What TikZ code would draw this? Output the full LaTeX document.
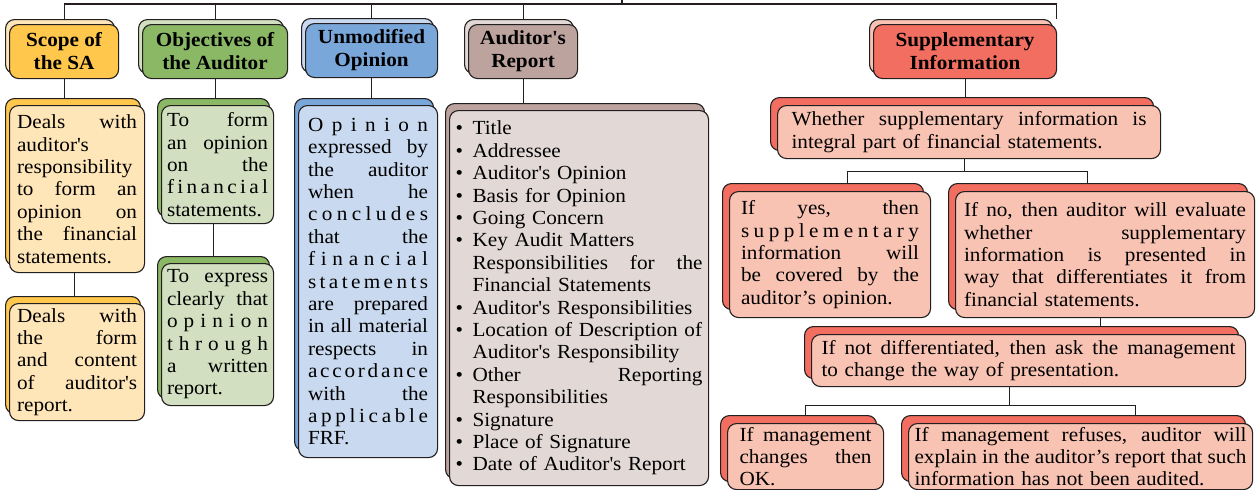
\documentclass[tikz,border=0pt]{standalone}
\usepackage{fontspec}
\setmainfont{Liberation Serif}[FakeStretch=1.06]
\usepackage{tikz}
\usetikzlibrary{shadows,backgrounds}

\definecolor{ln}{HTML}{231F20}
\definecolor{scopeD}{HTML}{FFC74B}
\definecolor{scopeL}{HTML}{FFE6B8}
\definecolor{objD}{HTML}{8AB865}
\definecolor{objL}{HTML}{D2DFC0}
\definecolor{unmD}{HTML}{7AA7DA}
\definecolor{unmL}{HTML}{C9D9EF}
\definecolor{arD}{HTML}{BCA39D}
\definecolor{arL}{HTML}{E2D9D7}
\definecolor{supD}{HTML}{F26E60}
\definecolor{supL}{HTML}{F8C3B3}

% justified line, letter spaced word, bullet lines
\newcommand{\justline}[1]{\makebox[\linewidth][s]{\spaceskip=0pt\xspaceskip=0pt\relax#1}}
\def\spreadletters#1{\ifx\relax#1\else#1\hfil\expandafter\spreadletters\fi}
\newcommand{\spreadword}[1]{\leavevmode\hbox to \linewidth{\spreadletters#1\relax\unskip}}
\newcommand{\bitem}[1]{\makebox[17pt][l]{\textbullet}#1}
\newcommand{\bjust}[1]{\makebox[\dimexpr\linewidth-17pt\relax][s]{\spaceskip=0pt\xspaceskip=0pt\relax#1}}
\newcommand{\sq}{\textquotesingle}

\begin{document}
\begin{tikzpicture}[x=1pt, y=-1pt,
    box/.style={draw=ln, line width=1.1pt, rounded corners=9pt, anchor=north west, inner sep=2pt},
    hdr/.style={box, fill=#1, font=\bfseries\fontsize{20}{23}\selectfont, align=center, minimum height=54pt},
    txt/.style={box, fill=#1, font=\fontsize{20}{22.4}\selectfont, align=left},
    hback/.style={general shadow={fill=#1, draw=ln, line width=1.1pt, shadow xshift=-4pt, shadow yshift=5pt}},
    cback/.style={general shadow={fill=#1, draw=ln, line width=1.1pt, shadow xshift=-4pt, shadow yshift=7pt}},
    rback/.style={general shadow={fill=#1, draw=ln, line width=1.1pt, shadow xshift=-7pt, shadow yshift=8pt}},
    link/.style={draw=ln, line width=1.1pt}]
    \path[use as bounding box, clip] (0,0) rectangle (1256,490);

    % Header boxes
    \node[hdr=scopeD, hback=scopeL, minimum width=109pt] (hScope) at (9,24) {Scope of\\the SA};
    \node[hdr=objD, hback=objL, minimum width=145pt] (hObj) at (142,24) {Objectives of\\the Auditor};
    \node[hdr=unmD, hback=unmL, minimum width=132pt] (hUnm) at (305,23) {Unmodified\\Opinion};
    \node[hdr=arD, hback=arL, minimum width=109pt] (hAR) at (468,24) {Auditor\sq s\\Report};
    \node[hdr=supD, hback=supL, minimum width=183pt] (hSupp) at (873,24) {Supplementary\\Information};

    % Scope of the SA
    \node[txt=scopeL, cback=scopeD, minimum width=135pt, minimum height=167pt, text width=120pt] (sc1) at (9,105)
        {\justline{Deals with}\\auditor\sq s\\responsibility\\\justline{to form an}\\\justline{opinion on}\\\justline{the financial}\\statements.};
    \node[txt=scopeL, cback=scopeD, minimum width=135pt, minimum height=117pt, text width=120pt] (sc2) at (9,303)
        {\justline{Deals with}\\\justline{the form}\\\justline{and content}\\\justline{of auditor\sq s}\\report.};

    % Objectives of the Auditor
    \node[txt=objL, cback=objD, minimum width=112pt, minimum height=118pt, text width=101pt] (oc1) at (161,105)
        {\justline{To form}\\\justline{an opinion}\\\justline{on the}\\\spreadword{financial}\\statements.};
    \node[txt=objL, cback=objD, minimum width=112pt, minimum height=142pt, text width=101pt] (oc2) at (161,263)
        {\justline{To express}\\\justline{clearly that}\\\spreadword{opinion}\\\spreadword{through}\\\justline{a written}\\report.};

    % Unmodified Opinion
    \node[txt=unmL, cback=unmD, minimum width=139pt, minimum height=352pt, text width=120pt] (uc) at (298,105)
        {\spreadword{Opinion}\\\justline{expressed by}\\\justline{the auditor}\\\justline{when he}\\\spreadword{concludes}\\
         \justline{that the}\\\spreadword{financial}\\\spreadword{statements}\\\justline{are prepared}\\\justline{in all material}\\
         \justline{respects in}\\\spreadword{accordance}\\\justline{with the}\\\spreadword{applicable}\\FRF.};

    % Auditor's Report
    \node[txt=arL, cback=arD, minimum width=259pt, minimum height=375pt, text width=247pt] (ac) at (449,110)
        {\bitem{Title}\\\bitem{Addressee}\\\bitem{Auditor\sq s Opinion}\\\bitem{Basis for Opinion}\\\bitem{Going Concern}\\
         \bitem{Key Audit Matters}\\\hspace*{17pt}\bjust{Responsibilities for the}\\\hspace*{17pt}Financial Statements\\
         \bitem{Auditor\sq s Responsibilities}\\\bitem{Location of Description of}\\\hspace*{17pt}Auditor\sq s Responsibility\\
         \bitem{\bjust{Other Reporting}}\\\hspace*{17pt}Responsibilities\\\bitem{Signature}\\\bitem{Place of Signature}\\
         \bitem{Date of Auditor\sq s Report}};

    % Supplementary Information
    \node[txt=supL, rback=supD, minimum width=383pt, minimum height=53pt, text width=355pt] (wh) at (777,105)
        {\justline{Whether supplementary information is}\\integral part of financial statements.};
    \node[txt=supL, rback=supD, minimum width=201pt, minimum height=126pt, text width=178pt] (yes) at (729,191)
        {\justline{If yes, then}\\\spreadword{supplementary}\\\justline{information will}\\\justline{be covered by the}\\auditor’s opinion.};
    \node[txt=supL, rback=supD, minimum width=299pt, minimum height=126pt, text width=282pt] (no) at (955,191)
        {\justline{If no, then auditor will evaluate}\\\justline{whether supplementary}\\\justline{information is presented in}\\
         \justline{way that differentiates it from}\\financial statements.};
    \node[txt=supL, rback=supD, minimum width=434pt, minimum height=52pt, text width=414pt] (nd) at (811,334)
        {\justline{If not differentiated, then ask the management}\\to change the way of presentation.};
    \node[txt=supL, rback=supD, minimum width=156pt, minimum height=66pt, text width=132pt] (mc) at (727,423)
        {\justline{If management}\\\justline{changes then}\\OK.};
    \node[txt=supL, rback=supD, minimum width=344pt, minimum height=66pt, text width=332pt] (rf) at (908,423)
        {\justline{If management refuses, auditor will}\\\justline{explain in the auditor’s report that such}\\information has not been audited.};

    % Connectors
    \begin{scope}[on background layer]
        \coordinate (root) at (622,4);
        \draw[link] (root) -- ++(0,-10);
        \draw[link] (hScope.north) |- (root);
        \draw[link] (hObj.north) -- (hObj.north |- root);
        \draw[link] (hUnm.north) -- (hUnm.north |- root);
        \draw[link] (hAR.north) -- (hAR.north |- root);
        \draw[link] (root) -| ([xshift=-1pt, yshift=5pt]hSupp.north east);

        \draw[link] (hScope.south) -- (hScope.south |- sc1.north);
        \draw[link] ([xshift=-3pt]sc1.south) -- ([xshift=-3pt]sc1.south |- sc2.north);
        \draw[link] (hObj.south) -- (hObj.south |- oc1.north);
        \draw[link] ([xshift=-4pt]oc1.south) -- ([xshift=-4pt]oc1.south |- oc2.north);
        \draw[link] (hUnm.south) -- (hUnm.south |- uc.north);
        \draw[link] (hAR.south) -- (hAR.south |- ac.north);

        \draw[link] (hSupp.south) -- (hSupp.south |- wh.north);
        \draw[link] ([xshift=-5pt]wh.south) -- ++(0,12) coordinate (whsplit);
        \draw[link] (whsplit) -| ([xshift=17pt]yes.north);
        \draw[link] (whsplit) -| ([xshift=-18pt]no.north);
        \draw[link] ([xshift=-5pt]no.south) -- ([xshift=-5pt]no.south |- nd.north);
        \draw[link] ([xshift=-19pt]nd.south) -- ++(0,18) coordinate (ndsplit);
        \draw[link] (ndsplit) -| (mc.north);
        \draw[link] (ndsplit) -| ([xshift=55pt]rf.north);
    \end{scope}
\end{tikzpicture}
\end{document}
